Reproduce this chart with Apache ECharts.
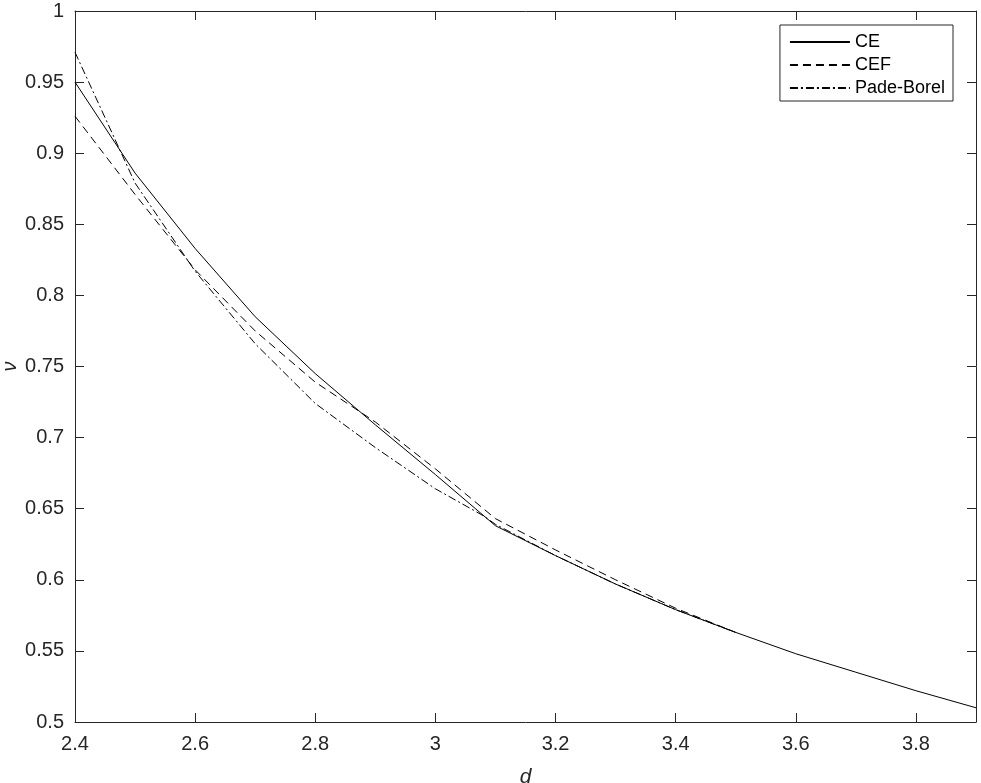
<!DOCTYPE html>
<html>
<head>
<meta charset="utf-8">
<script src="https://cdn.jsdelivr.net/npm/echarts@6/dist/echarts.min.js"></script>
<style>
html,body{margin:0;padding:0;background:#fff;}
#chart{width:981px;height:783px;}
</style>
</head>
<body>
<div id="chart"></div>
<script>
// d values (x)
const dCE = [2.4, 2.5, 2.6, 2.7, 2.8, 2.9, 3.0, 3.1, 3.2, 3.3, 3.4, 3.5, 3.6, 3.7, 3.8, 3.9];
const nuCE = [0.950, 0.886, 0.833, 0.785, 0.745, 0.709, 0.674, 0.638, 0.617, 0.597, 0.579, 0.563, 0.548, 0.535, 0.522, 0.510];

const dCEF = [2.4, 2.5, 2.6, 2.7, 2.8, 2.9, 3.0, 3.1, 3.2, 3.3, 3.4, 3.5];
const nuCEF = [0.926, 0.871, 0.818, 0.775, 0.739, 0.711, 0.678, 0.643, 0.621, 0.600, 0.580, 0.563];

const dPB = [2.4, 2.5, 2.6, 2.7, 2.8, 2.9, 3.0, 3.08, 3.1, 3.2, 3.3, 3.4, 3.5];
const nuPB = [0.971, 0.879, 0.817, 0.766, 0.724, 0.693, 0.664, 0.645, 0.639, 0.617, 0.597, 0.579, 0.563];

const seriesNames = ['CE', 'CEF', 'Pade-Borel'];
const xTicks = {min: 2.4, max: 3.9, interval: 0.2};
const yTicks = {min: 0.5, max: 1, interval: 0.05};

function pairs(xs, ys) { return xs.map((x, i) => [x, ys[i]]); }

const chart = echarts.init(document.getElementById('chart'), null, {renderer: 'canvas'});
const axisColor = '#262626';
const font = 'Liberation Sans, Arial, Helvetica, sans-serif';

const baseX = {
  type: 'value', min: xTicks.min, max: xTicks.max, interval: xTicks.interval,
  axisLine: {show: true, onZero: false, lineStyle: {color: axisColor, width: 1}},
  axisTick: {show: true, inside: true, length: 9, lineStyle: {color: axisColor}},
  splitLine: {show: false}
};
const baseY = {
  type: 'value', min: yTicks.min, max: yTicks.max, interval: yTicks.interval,
  axisLine: {show: true, onZero: false, lineStyle: {color: axisColor, width: 1}},
  axisTick: {show: true, inside: true, length: 9, lineStyle: {color: axisColor}},
  splitLine: {show: false}
};

const option = {
  backgroundColor: '#fff',
  animation: false,
  grid: {left: 75, right: 5, top: 11, bottom: 61, containLabel: false, outerBoundsMode: 'none'},
  legend: {
    orient: 'vertical',
    right: 28, top: 25,
    data: seriesNames,
    itemWidth: 60, itemHeight: 14, itemGap: 5,
    padding: [8, 8, 4, 9],
    borderColor: '#262626', borderWidth: 1,
    backgroundColor: '#fff',
    itemStyle: {color: 'rgba(0,0,0,0)', borderWidth: 0, opacity: 0},
    textStyle: {fontFamily: font, fontSize: 18, color: '#000'}
  },
  xAxis: [
    Object.assign({}, baseX, {
      position: 'bottom',
      name: 'd', nameLocation: 'middle', nameGap: 45, nameMoveOverlap: false,
      nameTextStyle: {fontFamily: font, fontSize: 21, fontStyle: 'italic', color: axisColor},
      axisLabel: {show: true, margin: 12, showMaxLabel: false, fontFamily: font, fontSize: 20, color: axisColor}
    }),
    Object.assign({}, baseX, {position: 'top', axisLabel: {show: false}})
  ],
  yAxis: [
    Object.assign({}, baseY, {
      position: 'left',
      name: 'ν', nameLocation: 'middle', nameGap: 65, nameMoveOverlap: false, nameRotate: 90,
      nameTextStyle: {fontFamily: font, fontSize: 20, fontStyle: 'italic', color: axisColor,
                      align: 'center', verticalAlign: 'middle'},
      axisLabel: {show: true, margin: 11, fontFamily: font, fontSize: 20, color: axisColor}
    }),
    Object.assign({}, baseY, {position: 'right', axisLabel: {show: false}})
  ],
  series: [
    {name: seriesNames[0], type: 'line', data: pairs(dCE, nuCE), symbol: 'none', showSymbol: false,
     lineStyle: {color: '#000', width: 1, type: 'solid'}, itemStyle: {color: '#000'}},
    {name: seriesNames[1], type: 'line', data: pairs(dCEF, nuCEF), symbol: 'none', showSymbol: false,
     lineStyle: {color: '#000', width: 1, type: [8, 5]}, itemStyle: {color: '#000'}},
    {name: seriesNames[2], type: 'line', data: pairs(dPB, nuPB), symbol: 'none', showSymbol: false,
     lineStyle: {color: '#000', width: 1, type: [8, 3, 2, 3]}, itemStyle: {color: '#000'}}
  ]
};
chart.setOption(option);
</script>
</body>
</html>
